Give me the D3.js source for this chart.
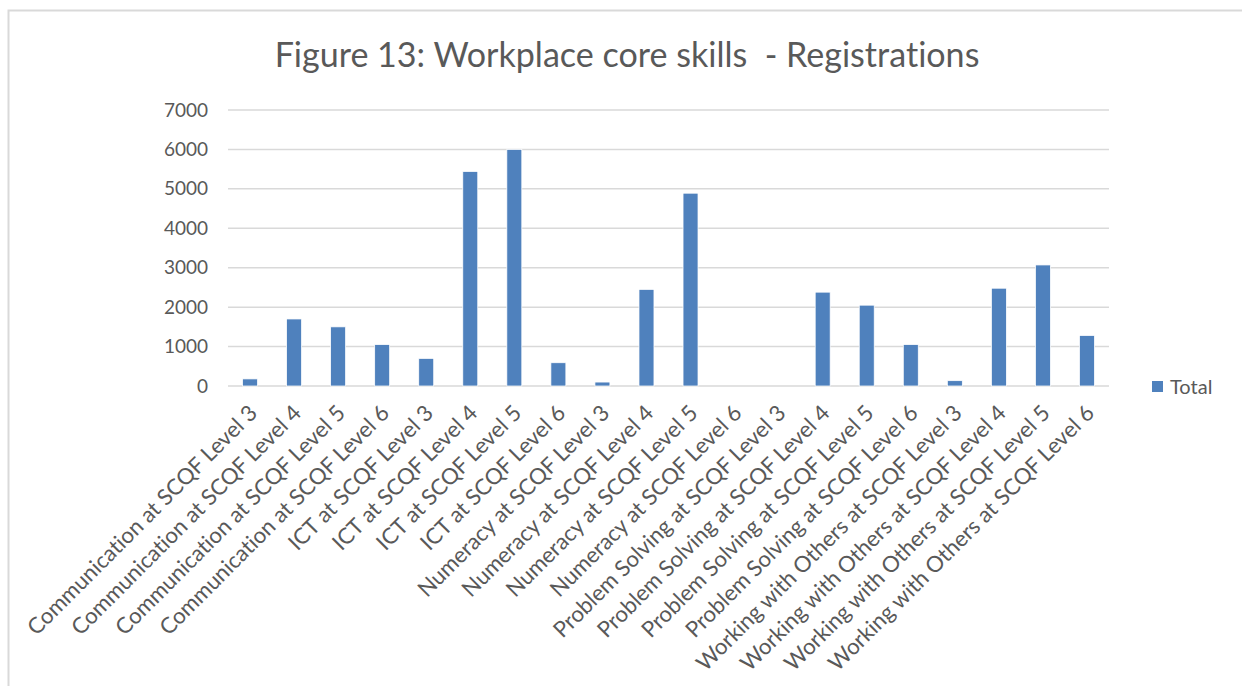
<!DOCTYPE html>
<html>
<head>
<meta charset="utf-8">
<script src="https://cdn.jsdelivr.net/npm/d3@7"></script>
<style>
  body { margin: 0; background: #fff; }
  svg { display: block; }
  text { font-variant-ligatures: none; font-feature-settings: "liga" 0; }
</style>
</head>
<body>
<svg width="1242" height="686"></svg>
<script>
const categories = [
  "Communication at SCQF Level 3",
  "Communication at SCQF Level 4",
  "Communication at SCQF Level 5",
  "Communication at SCQF Level 6",
  "ICT at SCQF Level 3",
  "ICT at SCQF Level 4",
  "ICT at SCQF Level 5",
  "ICT at SCQF Level 6",
  "Numeracy at SCQF Level 3",
  "Numeracy at SCQF Level 4",
  "Numeracy at SCQF Level 5",
  "Numeracy at SCQF Level 6",
  "Problem Solving at SCQF Level 3",
  "Problem Solving at SCQF Level 4",
  "Problem Solving at SCQF Level 5",
  "Problem Solving at SCQF Level 6",
  "Working with Others at SCQF Level 3",
  "Working with Others at SCQF Level 4",
  "Working with Others at SCQF Level 5",
  "Working with Others at SCQF Level 6"
];

const totals = [180, 1700, 1500, 1050, 700, 5440, 6000, 590, 100, 2450,
                4890, 0, 0, 2380, 2050, 1050, 135, 2480, 3070, 1280];

const yTicks = [0, 1000, 2000, 3000, 4000, 5000, 6000, 7000];

const title = "Figure 13: Workplace core skills  - Registrations";
const seriesName = "Total";

const font = "Lato, 'Open Sans', sans-serif";
const textColor = "#595959";
const barColor = "#4f81bd";

const svg = d3.select("svg");

// outer chart border
svg.append("rect")
  .attr("x", 8.5).attr("y", 10.5)
  .attr("width", 1250).attr("height", 700)
  .attr("fill", "none")
  .attr("stroke", "#d9d9d9")
  .attr("stroke-width", 2);

const margin = { left: 228, right: 1109, top: 110, bottom: 386 };

const x = d3.scaleBand()
  .domain(categories)
  .range([margin.left, margin.right])
  .paddingInner(0.66)
  .paddingOuter(0.33);

const y = d3.scaleLinear()
  .domain([0, 7000])
  .range([margin.bottom, margin.top]);

// gridlines
svg.append("g")
  .selectAll("line")
  .data(yTicks)
  .enter()
  .append("line")
  .attr("x1", margin.left)
  .attr("x2", margin.right)
  .attr("y1", d => y(d))
  .attr("y2", d => y(d))
  .attr("stroke", "#d9d9d9")
  .attr("stroke-width", 1.5);

// y axis labels
const yAxis = svg.append("g")
  .attr("transform", `translate(${margin.left - 20},0)`)
  .call(d3.axisLeft(y).tickValues(yTicks).tickFormat(d3.format("d")).tickSize(0).tickPadding(0));
yAxis.select(".domain").remove();
yAxis.selectAll("text")
  .attr("font-family", font)
  .attr("font-size", 19)
  .attr("fill", textColor);

// bars
svg.append("g")
  .selectAll("rect")
  .data(totals)
  .enter()
  .append("rect")
  .attr("x", (d, i) => x(categories[i]))
  .attr("y", d => y(d))
  .attr("width", x.bandwidth())
  .attr("height", d => y(0) - y(d))
  .attr("fill", barColor)
  .attr("stroke", "#ffffff")
  .attr("stroke-width", 0.75);

// x labels, rotated
const xLabels = svg.append("g")
  .selectAll("text")
  .data(categories)
  .enter()
  .append("text")
  .attr("transform", d => `translate(${x(d) + x.bandwidth() / 2 + 3},${409}) rotate(-45)`)
  .attr("text-anchor", "end")
  .attr("dy", "0.35em")
  .attr("font-family", font)
  .attr("font-size", 20)
  .attr("fill", textColor)
  .text(d => d);

// fit the label size to the reference length of the first label
const firstLen = xLabels.node().getComputedTextLength();
xLabels.attr("font-size", 20 * 314 / firstLen);

// title
const titleText = svg.append("text")
  .attr("x", 627)
  .attr("y", 67)
  .attr("text-anchor", "middle")
  .attr("font-family", font)
  .attr("font-size", 30)
  .attr("fill", textColor)
  .style("white-space", "pre")
  .text(title);
const tLen = titleText.node().getComputedTextLength();
titleText.attr("font-size", 30 * 705 / tLen);

// legend
svg.append("rect")
  .attr("x", 1152).attr("y", 381)
  .attr("width", 11).attr("height", 11)
  .attr("fill", barColor);
svg.append("text")
  .attr("x", 1170).attr("y", 394)
  .attr("font-family", font)
  .attr("font-size", 20)
  .attr("fill", textColor)
  .text(seriesName);
</script>
</body>
</html>
